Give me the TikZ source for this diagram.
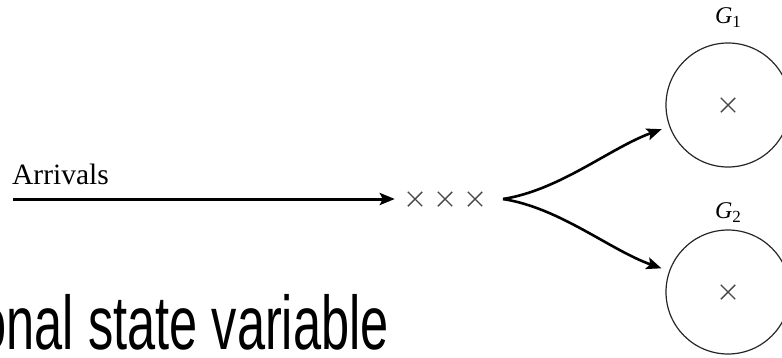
\documentclass[tikz,border=0pt]{standalone}
\usepackage{fontspec}
\setmainfont{Liberation Serif}
\newfontfamily\slidesans{Liberation Sans}
\usetikzlibrary{arrows.meta,shapes.misc}
\begin{document}
\begin{tikzpicture}[x=1pt,y=-1pt,
  flow/.style={line width=3pt,-{Stealth[length=15pt,width=12pt,inset=3pt]}},
  qmark/.style={cross out,draw=black!72,line width=1.4pt,minimum size=13pt,inner sep=0pt},
  server/.style={circle,draw=black!85,line width=1.2pt,minimum size=124pt,inner sep=0pt},
  glabel/.style={font=\fontsize{24}{24}\selectfont\itshape,inner sep=0pt,anchor=base}]
\useasboundingbox (0,0) rectangle (782,357);

% arrival stream into the queue
\coordinate (src) at (13,199);
\node[anchor=base west,inner sep=0pt,font=\fontsize{29.5}{29.5}\selectfont] (arr) at (12,184) {Arrivals};

% waiting customers
\node[qmark] (q1) at (415,199) {};
\node[qmark] (q2) at (445,199) {};
\node[qmark] (q3) at (475,199) {};
\coordinate (qend) at (503,199);

% two parallel servers
\node[server] (g1) at (728,105) {};
\node[server] (g2) at (728,292) {};
\node[qmark] (c1) at (g1.center) {};
\node[qmark] (c2) at (g2.center) {};
\node[glabel] (l1) at (728,23) {G\raisebox{-4pt}{\fontsize{17}{17}\selectfont\upshape 1}};
\node[glabel] (l2) at (728,218) {G\raisebox{-4pt}{\fontsize{17}{17}\selectfont\upshape 2}};

% connectors
\draw[flow] (src) -- ([xshift=-13pt]q1.west);
\draw[flow,line width=2.6pt,shorten >=8pt] (qend) .. controls (560,190) and (610,148) .. (g1);
\draw[flow,line width=2.6pt,shorten >=8pt] (qend) .. controls (560,208) and (610,250) .. (g2);

% slide caption, running off the left edge
\node[anchor=base east,inner sep=0pt,font=\slidesans\fontsize{76}{76}\selectfont] (cap) at (389,349)
  {\scalebox{0.665}[1]{onal state variable}};
\end{tikzpicture}
\end{document}
